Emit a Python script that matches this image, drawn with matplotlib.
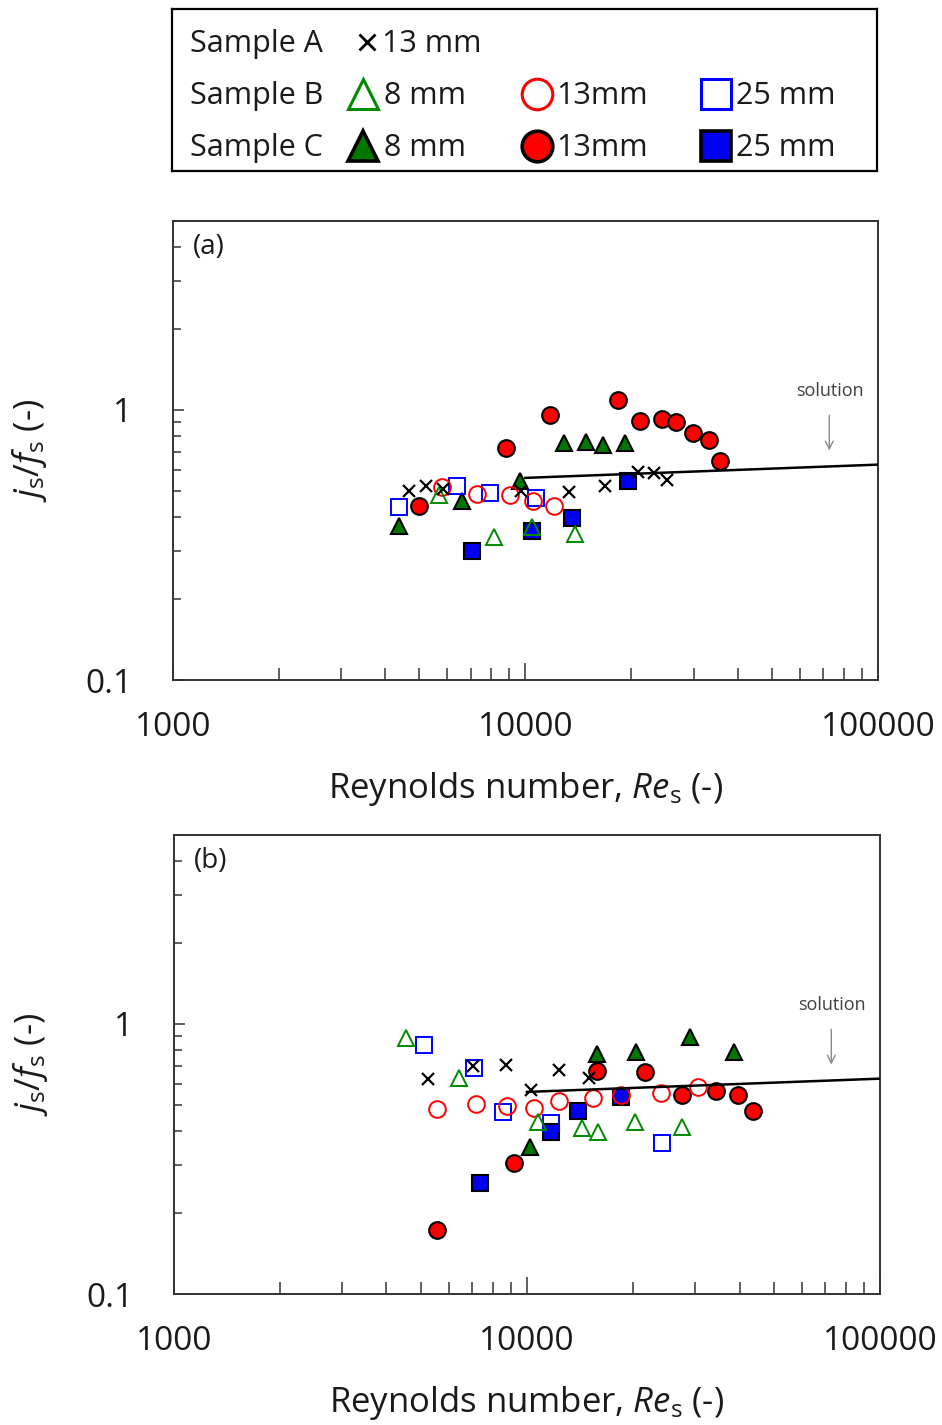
import matplotlib
matplotlib.use("Agg")
import matplotlib.pyplot as plt
from matplotlib import font_manager as fm
from matplotlib.ticker import LogLocator, FuncFormatter, NullFormatter

# ---------------- data: panel (a) ----------------
a_A13_re = [4670, 5240, 5840, 9740, 13340, 16800, 20830, 23230, 25230]
a_A13_js = [0.500, 0.521, 0.510, 0.502, 0.495, 0.524, 0.587, 0.582, 0.552]
a_B8_re = [5690, 8130, 10430, 13870]
a_B8_js = [0.482, 0.338, 0.367, 0.347]
a_B13_re = [5820, 7290, 9020, 10500, 12090]
a_B13_js = [0.517, 0.489, 0.482, 0.458, 0.442]
a_B25_re = [4370, 6420, 7950, 10740]
a_B25_js = [0.436, 0.521, 0.491, 0.472]
a_C8_re = [4370, 6610, 9670, 12860, 14880, 16590, 19190]
a_C8_js = [0.373, 0.461, 0.547, 0.752, 0.763, 0.738, 0.752]
a_C13_re = [4980, 8790, 11730, 18330, 21100, 24400, 26760, 29900, 33250, 35730]
a_C13_js = [0.440, 0.721, 0.958, 1.089, 0.911, 0.926, 0.900, 0.819, 0.774, 0.645]
a_C25_re = [7050, 10430, 13580, 19610]
a_C25_js = [0.301, 0.357, 0.397, 0.544]

# ---------------- data: panel (b) ----------------
b_A13_re = [5255, 7050, 8720, 10250, 12320, 14980]
b_A13_js = [0.626, 0.699, 0.705, 0.570, 0.675, 0.629]
b_B8_re = [4545, 6430, 10770, 14290, 15860, 20220, 27540]
b_B8_js = [0.885, 0.630, 0.435, 0.411, 0.399, 0.435, 0.417]
b_B13_re = [5570, 7170, 8800, 10490, 12350, 15400, 18490, 23900, 30550]
b_B13_js = [0.484, 0.504, 0.498, 0.487, 0.519, 0.531, 0.546, 0.554, 0.586]
b_B25_re = [5120, 7090, 8570, 11700, 24060]
b_B25_js = [0.836, 0.689, 0.471, 0.431, 0.363]
b_C8_re = [10200, 15810, 20310, 28940, 38640]
b_C8_js = [0.351, 0.774, 0.790, 0.893, 0.786]
b_C13_re = [5570, 9190, 15750, 21590, 27540, 34280, 39510, 43730]
b_C13_js = [0.173, 0.305, 0.671, 0.663, 0.546, 0.565, 0.546, 0.476]
b_C25_re = [7360, 11670, 13970, 18420]
b_C25_js = [0.258, 0.399, 0.476, 0.538]

# correlation for the solution
sol_re = [1.0e4, 1.0e5]
sol_js = [0.56, 0.627]

# ---------------- fonts ----------------
def has_italic(name):
    return any(f.name == name and f.style in ("italic", "oblique")
               for f in fm.fontManager.ttflist)

FONT = "Open Sans"
IT_FONT = next((n for n in ["Open Sans", "Noto Sans", "DejaVu Sans"] if has_italic(n)),
               "DejaVu Sans")
plt.rcParams["font.family"] = [FONT, "DejaVu Sans"]
plt.rcParams["mathtext.fontset"] = "custom"
plt.rcParams["mathtext.rm"] = FONT
plt.rcParams["mathtext.it"] = IT_FONT + ":italic"
plt.rcParams["mathtext.default"] = "it"

TEXT = "#1a1a1a"
GREEN = "#008a00"
RED = "#ff0000"
BLUE = "#0000ff"

styles = {
    "A13": dict(marker="x", color="black", ls="none", ms=9, mew=1.6),
    "B8": dict(marker="^", mfc="none", mec=GREEN, ls="none", ms=12, mew=1.4),
    "B13": dict(marker="o", mfc="none", mec=RED, ls="none", ms=12, mew=1.4),
    "B25": dict(marker="s", mfc="none", mec=BLUE, ls="none", ms=11.5, mew=1.4),
    "C8": dict(marker="^", mfc="#007800", mec="black", ls="none", ms=12, mew=1.5),
    "C13": dict(marker="o", mfc=RED, mec="black", ls="none", ms=12, mew=1.5),
    "C25": dict(marker="s", mfc="#0000f0", mec="black", ls="none", ms=11.5, mew=1.5),
}

fig = plt.figure(figsize=(9.42, 14.25), dpi=100)


def draw_panel(rect, series, tag):
    ax = fig.add_axes(rect)
    ax.set_xscale("log")
    ax.set_yscale("log")
    ax.set_xlim(1000, 100000)
    ax.set_ylim(0.1, 5)
    for key in ["C25", "C13", "C8", "B25", "B13", "B8", "A13"]:
        re, js = series[key]
        ax.plot(re, js, zorder=3, **styles[key])
    ax.plot(sol_re, sol_js, color="black", lw=1.8, zorder=4)

    ax.xaxis.set_major_locator(LogLocator(base=10, numticks=10))
    ax.xaxis.set_minor_locator(LogLocator(base=10, subs=range(2, 10), numticks=20))
    ax.xaxis.set_major_formatter(FuncFormatter(lambda v, p: f"{int(round(v))}"))
    ax.xaxis.set_minor_formatter(NullFormatter())
    ax.yaxis.set_major_locator(LogLocator(base=10, numticks=10))
    ax.yaxis.set_minor_locator(LogLocator(base=10, subs=range(2, 10), numticks=20))
    ax.yaxis.set_major_formatter(FuncFormatter(lambda v, p: f"{v:g}"))
    ax.yaxis.set_minor_formatter(NullFormatter())

    ax.tick_params(axis="x", which="major", direction="in", length=12, width=1.1,
                   pad=22, labelsize=24, colors="#333333", labelcolor=TEXT)
    ax.tick_params(axis="x", which="minor", direction="in", length=9, width=1.1,
                   colors="#333333")
    ax.tick_params(axis="y", which="major", direction="in", length=8, width=1.1,
                   pad=29, labelsize=24, colors="#333333", labelcolor=TEXT)
    ax.tick_params(axis="y", which="minor", direction="in", length=5.5, width=1.1,
                   colors="#333333")
    ax.tick_params(top=False, right=False, which="both")
    for lbl in ax.get_yticklabels():
        lbl.set_va("center_baseline")
    for s in ax.spines.values():
        s.set_color("#333333")
        s.set_linewidth(1.4)

    ax.set_xlabel(r"Reynolds number, $Re_{\mathrm{s}}$ (-)", fontsize=25, color=TEXT)
    ax.xaxis.set_label_coords(0.5, -0.197)
    ax.set_ylabel(r"$j_{\mathrm{s}}/f_{\mathrm{s}}$ (-)", fontsize=25, color=TEXT,
                  va="center")
    ax.yaxis.set_label_coords(-0.203, 0.5)

    ax.text(0.028, 0.943, tag, transform=ax.transAxes, fontsize=20, color=TEXT,
            ha="left", va="center")
    ax.text(0.932, 0.63, "solution", transform=ax.transAxes, fontsize=13,
            color="#404040", ha="center", va="center")
    ax.annotate("", xy=(0.931, 0.494), xytext=(0.931, 0.583),
                xycoords="axes fraction",
                arrowprops=dict(arrowstyle="->", color="#8a8a8a", lw=1.0,
                                mutation_scale=14))
    return ax


series_a = {"A13": (a_A13_re, a_A13_js), "B8": (a_B8_re, a_B8_js),
            "B13": (a_B13_re, a_B13_js), "B25": (a_B25_re, a_B25_js),
            "C8": (a_C8_re, a_C8_js), "C13": (a_C13_re, a_C13_js),
            "C25": (a_C25_re, a_C25_js)}
series_b = {"A13": (b_A13_re, b_A13_js), "B8": (b_B8_re, b_B8_js),
            "B13": (b_B13_re, b_B13_js), "B25": (b_B25_re, b_B25_js),
            "C8": (b_C8_re, b_C8_js), "C13": (b_C13_re, b_C13_js),
            "C25": (b_C25_re, b_C25_js)}

draw_panel([0.1834, 0.5228, 0.7486, 0.3221], series_a, "(a)")
draw_panel([0.1845, 0.0919, 0.7497, 0.3221], series_b, "(b)")

# ---------------- key box ----------------
lg = fig.add_axes([0.1826, 0.8800, 0.7484, 0.1137])
lg.set_xlim(0, 1)
lg.set_ylim(0, 1)
lg.set_xticks([])
lg.set_yticks([])
for s in lg.spines.values():
    s.set_color("black")
    s.set_linewidth(1.6)

rows_y = [0.802, 0.481, 0.16]
text_dy = -0.018
row_names = ["Sample A", "Sample B", "Sample C"]
for y, name in zip(rows_y, row_names):
    lg.text(0.0255, y + text_dy, name, fontsize=22, color=TEXT, ha="left", va="center")

key_entries = [
    ("A13", 0, 0.276, 0.298, "13 mm"),
    ("B8", 1, 0.271, 0.300, "8 mm"),
    ("B13", 1, 0.518, 0.545, "13mm"),
    ("B25", 1, 0.771, 0.800, "25 mm"),
    ("C8", 2, 0.271, 0.300, "8 mm"),
    ("C13", 2, 0.518, 0.545, "13mm"),
    ("C25", 2, 0.771, 0.800, "25 mm"),
]
for key, row, mx, tx, label in key_entries:
    st = dict(styles[key])
    if key == "A13":
        st.update(ms=11, mew=2.0)
    else:
        st.update(ms=22, mew=2.2 if key.startswith("B") else 2.6)
    lg.plot([mx], [rows_y[row] - 0.006], clip_on=False, **st)
    lg.text(tx, rows_y[row] + text_dy, label, fontsize=22, color=TEXT,
            ha="left", va="center")

fig.savefig("out.png", dpi=100)
